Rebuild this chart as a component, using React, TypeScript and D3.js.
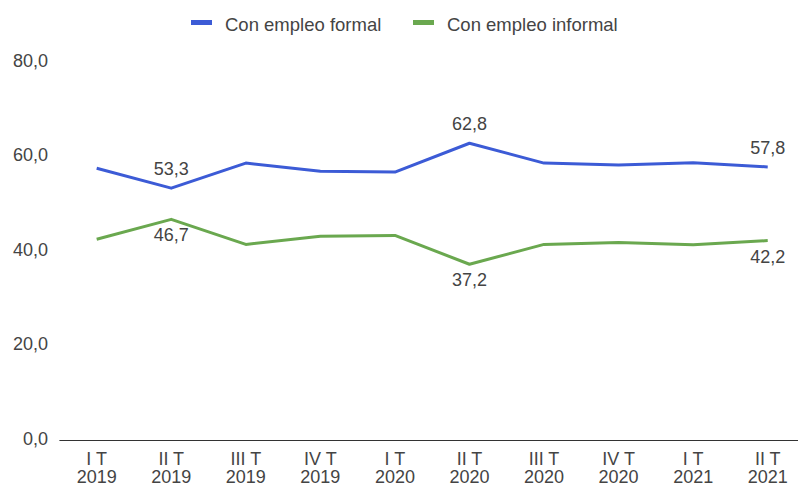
import React from "react";
import * as d3 from "d3";

const quarters = ["I T", "II T", "III T", "IV T", "I T", "II T", "III T", "IV T", "I T", "II T"];
const years = ["2019", "2019", "2019", "2019", "2020", "2020", "2020", "2020", "2021", "2021"];
const formal = [57.5, 53.3, 58.6, 56.9, 56.7, 62.8, 58.6, 58.2, 58.7, 57.8];
const informal = [42.5, 46.7, 41.4, 43.1, 43.3, 37.2, 41.4, 41.8, 41.3, 42.2];
const labeledIdx = [1, 5, 9];
const yTicks = [0, 20, 40, 60, 80];
const seriesNames = ["Con empleo formal", "Con empleo informal"];
const colors = ["#3c5bd6", "#6aa84f"];

const W = 798;
const H = 487;
const FONT = "Arial, 'Liberation Sans', sans-serif";
const fmt = (v: number) => v.toFixed(1).replace(".", ",");

export default function App() {
  const idx = quarters.map((_, i) => String(i));
  const x = d3.scaleBand().domain(idx).range([59.4, 805]);
  const cx = (i: number) => (x(String(i)) as number) + x.bandwidth() / 2;
  const y = d3.scaleLinear().domain([0, 80]).range([440, 62]);
  const line = d3
    .line<number>()
    .x((_, i) => cx(i))
    .y((d) => y(d));
  const series = [formal, informal];

  return (
    <svg
      width={W}
      height={H}
      style={{ position: "absolute", left: 0, top: 0, background: "#fff" }}
      fontFamily={FONT}
    >
      <rect x={0} y={0} width={W} height={H} fill="#fff" />
      {/* legend */}
      <rect x={191} y={20} width={21} height={5} fill={colors[0]} />
      <text x={225} y={31} fontSize={18.5} fill="#444">
        {seriesNames[0]}
      </text>
      <rect x={413} y={20} width={21} height={5} fill={colors[1]} />
      <text x={447} y={31} fontSize={18.5} fill="#444">
        {seriesNames[1]}
      </text>

      {/* y tick labels */}
      {yTicks.map((t) => (
        <text key={t} x={48} y={y(t) + 4.5} fontSize={18} fill="#444" textAnchor="end">
          {fmt(t)}
        </text>
      ))}

      {/* x axis */}
      <line x1={59.4} x2={805} y1={y(0) + 0.5} y2={y(0) + 0.5} stroke="#333" strokeWidth={1} />
      {quarters.map((q, i) => (
        <g key={i}>
          <text x={cx(i)} y={464.5} fontSize={18} fill="#444" textAnchor="middle">
            {q}
          </text>
          <text x={cx(i)} y={483} fontSize={18} fill="#444" textAnchor="middle">
            {years[i]}
          </text>
        </g>
      ))}

      {/* lines */}
      {series.map((s, k) => (
        <path key={k} d={line(s) || ""} fill="none" stroke={colors[k]} strokeWidth={3} strokeLinejoin="round" />
      ))}

      {/* data labels */}
      {labeledIdx.map((i) => (
        <text key={"f" + i} x={cx(i)} y={y(formal[i]) - 13} fontSize={18} fill="#444" textAnchor="middle">
          {fmt(formal[i])}
        </text>
      ))}
      {labeledIdx.map((i) => (
        <text key={"n" + i} x={cx(i)} y={y(informal[i]) + 22} fontSize={18} fill="#444" textAnchor="middle">
          {fmt(informal[i])}
        </text>
      ))}
    </svg>
  );
}
